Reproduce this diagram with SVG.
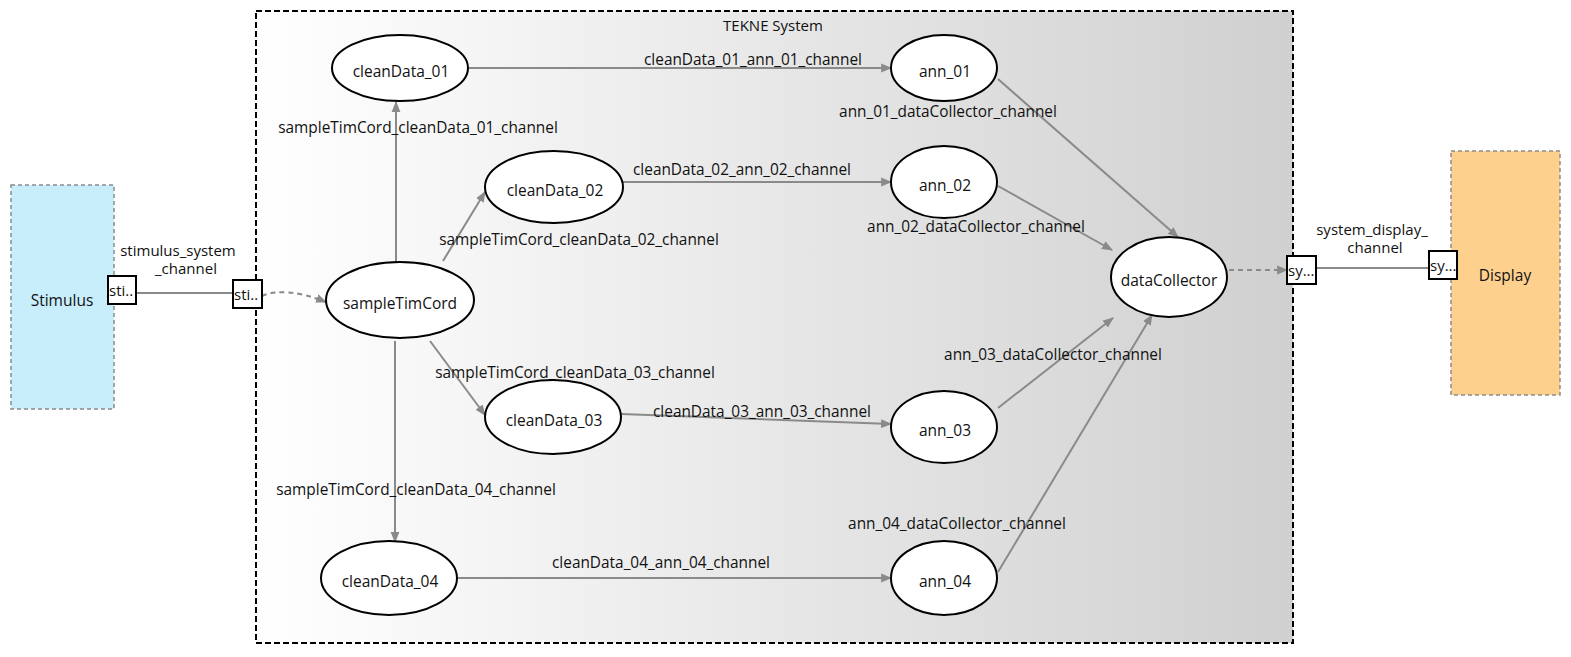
<svg xmlns="http://www.w3.org/2000/svg" width="1571" height="657" viewBox="0 0 1571 657">
  <defs>
    <linearGradient id="sysFill" x1="0" y1="0" x2="1" y2="0">
      <stop offset="0" stop-color="#ffffff"/>
      <stop offset="1" stop-color="#d0d0d0"/>
    </linearGradient>
    <marker id="arrowBig" viewBox="0 0 10 10" refX="9" refY="5" markerWidth="11" markerHeight="11" orient="auto" markerUnits="userSpaceOnUse">
      <path d="M0,1 L10,5 L0,9 z" fill="#8a8a8a"/>
    </marker>
  </defs>
  <style>
    text { font-family: "Open Sans", "DejaVu Sans", sans-serif; fill: #111; }
    .node { fill: #ffffff; stroke: #000; stroke-width: 2; }
    .nlabel { font-size: 15.5px; text-anchor: middle; dominant-baseline: central; }
    .elabel { font-size: 15.4px; text-anchor: middle; }
    .elabel2 { font-size: 15px; text-anchor: middle; }
    .edge { fill: none; stroke: #8a8a8a; stroke-width: 2; marker-end: url(#arrowBig); }
    .dashedge { fill: none; stroke: #8a8a8a; stroke-width: 2; stroke-dasharray: 5 4; marker-end: url(#arrowBig); }
    .link { fill: none; stroke: #8a8a8a; stroke-width: 2; }
    .port { fill: #ffffff; stroke: #000; stroke-width: 2; }
    .plabel { font-size: 15px; dominant-baseline: central; }
    .ext { stroke: #8c8c8c; stroke-width: 1.5; stroke-dasharray: 4 3; }
  </style>

  <!-- outer system container -->
  <g id="tekne-system">
    <rect x="256" y="11" width="1037" height="632" fill="url(#sysFill)" stroke="#000" stroke-width="2" stroke-dasharray="6 3"/>
    <text x="773" y="25" font-size="15" text-anchor="middle" dominant-baseline="central">TEKNE System</text>
  </g>

  <!-- external blocks -->
  <g id="stimulus">
    <rect class="ext" x="11" y="185" width="103" height="224" fill="#c8eefc"/>
    <text class="nlabel" x="62" y="300">Stimulus</text>
  </g>
  <g id="display">
    <rect class="ext" x="1451" y="151" width="109" height="244" fill="#fdd08d"/>
    <text class="nlabel" x="1505" y="275">Display</text>
  </g>

  <!-- connectors -->
  <g id="connectors">
    <line class="link" x1="136" y1="293" x2="233" y2="293"/>
    <line class="link" x1="1316" y1="268" x2="1429" y2="268"/>
    <path class="dashedge" d="M262,296 Q285,286 326,302"/>
    <path class="dashedge" d="M1229,270 L1287,270"/>

    <path class="edge" d="M396,262 L396,102"/>
    <path class="edge" d="M443,261 L485,192"/>
    <path class="edge" d="M430,341 L485,415"/>
    <path class="edge" d="M395,341 L395,542"/>

    <path class="edge" d="M469,68 L891,68"/>
    <path class="edge" d="M623,182 L891,182"/>
    <path class="edge" d="M621,414 L891,424"/>
    <path class="edge" d="M457,578 L891,578"/>

    <path class="edge" d="M998,79 L1178,237"/>
    <path class="edge" d="M998,186 L1112,250"/>
    <path class="edge" d="M998,408 L1113,318"/>
    <path class="edge" d="M998,572 L1152,315"/>

    <text class="elabel2" x="178" y="256">stimulus_system</text>
    <text class="elabel2" x="186" y="274">_channel</text>
    <text class="elabel2" x="1372" y="235">system_display_</text>
    <text class="elabel2" x="1375" y="253">channel</text>

    <text class="elabel" x="753" y="65">cleanData_01_ann_01_channel</text>
    <text class="elabel" x="418" y="133">sampleTimCord_cleanData_01_channel</text>
    <text class="elabel" x="742" y="175">cleanData_02_ann_02_channel</text>
    <text class="elabel" x="579" y="245">sampleTimCord_cleanData_02_channel</text>
    <text class="elabel" x="948" y="117">ann_01_dataCollector_channel</text>
    <text class="elabel" x="976" y="232">ann_02_dataCollector_channel</text>
    <text class="elabel" x="1053" y="360">ann_03_dataCollector_channel</text>
    <text class="elabel" x="575" y="378">sampleTimCord_cleanData_03_channel</text>
    <text class="elabel" x="762" y="417">cleanData_03_ann_03_channel</text>
    <text class="elabel" x="416" y="495">sampleTimCord_cleanData_04_channel</text>
    <text class="elabel" x="957" y="529">ann_04_dataCollector_channel</text>
    <text class="elabel" x="661" y="568">cleanData_04_ann_04_channel</text>
  </g>

  <!-- ports -->
  <g id="port-stimulus-out">
    <rect class="port" x="108" y="276" width="28" height="28"/>
    <text class="plabel" x="109" y="290">sti..</text>
  </g>
  <g id="port-system-in">
    <rect class="port" x="233" y="280" width="29" height="28"/>
    <text class="plabel" x="234" y="294">sti..</text>
  </g>
  <g id="port-system-out">
    <rect class="port" x="1287" y="256" width="29" height="28"/>
    <text class="plabel" x="1288" y="270">sy...</text>
  </g>
  <g id="port-display-in">
    <rect class="port" x="1429" y="251" width="28" height="28"/>
    <text class="plabel" x="1430" y="265">sy...</text>
  </g>

  <!-- processing nodes -->
  <g id="sampleTimCord">
    <ellipse class="node" cx="400" cy="300" rx="74" ry="38"/>
    <text class="nlabel" x="400" y="303">sampleTimCord</text>
  </g>
  <g id="cleanData_01">
    <ellipse class="node" cx="400" cy="68" rx="68" ry="33"/>
    <text class="nlabel" x="401" y="71">cleanData_01</text>
  </g>
  <g id="cleanData_02">
    <ellipse class="node" cx="554" cy="187" rx="69" ry="36"/>
    <text class="nlabel" x="555" y="190">cleanData_02</text>
  </g>
  <g id="cleanData_03">
    <ellipse class="node" cx="553" cy="417" rx="68" ry="37"/>
    <text class="nlabel" x="554" y="420">cleanData_03</text>
  </g>
  <g id="cleanData_04">
    <ellipse class="node" cx="389" cy="578" rx="68" ry="37"/>
    <text class="nlabel" x="390" y="581">cleanData_04</text>
  </g>
  <g id="ann_01">
    <ellipse class="node" cx="944" cy="68" rx="53" ry="33"/>
    <text class="nlabel" x="945" y="71">ann_01</text>
  </g>
  <g id="ann_02">
    <ellipse class="node" cx="944" cy="182" rx="53" ry="36"/>
    <text class="nlabel" x="945" y="185">ann_02</text>
  </g>
  <g id="ann_03">
    <ellipse class="node" cx="944" cy="427" rx="53" ry="36"/>
    <text class="nlabel" x="945" y="430">ann_03</text>
  </g>
  <g id="ann_04">
    <ellipse class="node" cx="944" cy="578" rx="53" ry="37"/>
    <text class="nlabel" x="945" y="581">ann_04</text>
  </g>
  <g id="dataCollector">
    <ellipse class="node" cx="1169" cy="277" rx="58" ry="40"/>
    <text class="nlabel" x="1169" y="280">dataCollector</text>
  </g>
</svg>
